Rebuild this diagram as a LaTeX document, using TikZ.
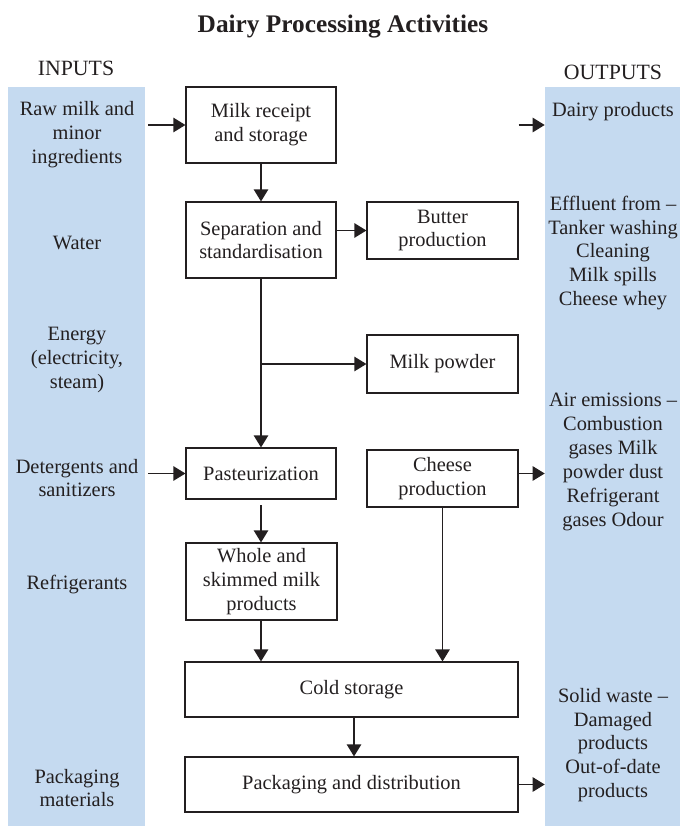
\documentclass[tikz,border=0pt]{standalone}
\usepackage{fontspec}
\setmainfont{Liberation Serif}
\usetikzlibrary{arrows.meta}
\definecolor{barblue}{RGB}{197,218,240}
\definecolor{ink}{RGB}{35,31,32}
\tikzset{
  stage/.style={draw=ink,line width=0.8pt,align=center,inner sep=0pt,text=ink},
  note/.style={align=center,text=ink},
  bar/.style={fill=barblue,inner sep=0pt,minimum height=18.475cm},
  flow/.style={draw=ink,line width=0.9pt,-{Triangle[length=3mm,width=3.6mm]}}
}

\begin{document}
\begin{tikzpicture}[x=0.025cm,y=-0.025cm,font=\fontsize{14.5}{17}\selectfont]
\useasboundingbox (0,0) rectangle (680,826);
\node[bar,minimum width=3.425cm] (inbar) at (76.5,456.5) {};
\node[bar,minimum width=3.375cm] (outbar) at (612.5,456.5) {};

\node[note] (title) at (343,27) {\fontsize{18}{21}\selectfont\bfseries Dairy Processing Activities};
\node[note] (intitle) at (76,68) {\fontsize{15.5}{18}\selectfont INPUTS};
\node[note] (outtitle) at (613,72) {\fontsize{15.5}{18}\selectfont OUTPUTS};

\begin{scope}[every node/.style={stage}]
\node[minimum width=3.75cm,minimum height=1.9cm] (recv) at (261,125) {Milk receipt\\and storage};
\node[minimum width=3.75cm,minimum height=1.9cm] (sep) at (261,240) {Separation and\\standardisation};
\node[minimum width=3.775cm,minimum height=1.425cm] (butter) at (442.5,230.5) {Butter\\production};
\node[minimum width=3.775cm,minimum height=1.45cm] (powder) at (442.5,364) {Milk powder};
\node[minimum width=3.75cm,minimum height=1.275cm] (past) at (261,473.5) {Pasteurization};
\node[minimum width=3.775cm,minimum height=1.925cm] (whole) at (261.5,581.5) {Whole and\\skimmed milk\\products};
\node[minimum width=3.775cm,minimum height=1.425cm] (cheese) at (442.5,478.5) {Cheese\\production};
\node[minimum width=8.325cm,minimum height=1.375cm] (cold) at (351.5,689.5) {Cold storage};
\node[minimum width=8.325cm,minimum height=1.375cm] (pack) at (351.5,784.5) {Packaging and distribution};
\end{scope}

\begin{scope}[every node/.style={note}]
\node (raw) at (77,135) {Raw milk and\\minor\\ingredients};
\node (water) at (77,243) {Water};
\node (energy) at (77,360) {Energy\\(electricity,\\steam)};
\node (deterg) at (77,478) {Detergents and\\sanitizers};
\node (refrig) at (77,585) {Refrigerants};
\node (packmat) at (77,788) {Packaging\\materials};
\node (dairy) at (613,112) {Dairy products};
\node (effl) at (613,253) {Effluent from --\\Tanker washing\\Cleaning\\Milk spills\\Cheese whey};
\node (air) at (613,462) {Air emissions --\\Combustion\\gases Milk\\powder dust\\Refrigerant\\gases Odour};
\node (solid) at (613,745) {Solid waste --\\Damaged\\products\\Out-of-date\\products};
\end{scope}

\draw[flow] ([xshift=2pt]inbar.east |- recv) -- (recv.west);
\draw[flow] ([xshift=2pt]inbar.east |- past) -- (past.west);
\draw[flow] (recv) -- (sep);
\draw[flow] (sep.east |- butter) -- (butter.west);
\draw[flow] (sep) -- (past);
\draw[flow] (sep.south |- powder) -- (powder.west);
\draw[flow] ([yshift=-4pt]past.south) -- (past.south |- whole.north);
\draw[flow] (past.south |- whole.south) -- (past.south |- cold.north);
\draw[flow] (cheese) -- (cheese |- cold.north);
\draw[flow] (cold.south -| 354,0) -- (pack.north -| 354,0);
\draw[flow] (butter.east |- recv) -- (outbar.west |- recv);
\draw[flow] (cheese.east |- past) -- (outbar.west |- past);
\draw[flow] (pack.east) -- (outbar.west |- pack);
\end{tikzpicture}
\end{document}
